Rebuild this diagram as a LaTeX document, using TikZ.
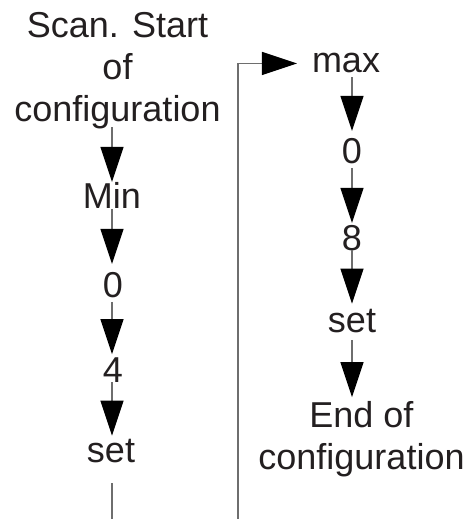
\documentclass[tikz,border=0pt]{standalone}
\usepackage{fontspec}
\setmainfont{Liberation Sans}
\usetikzlibrary{arrows.meta}
\definecolor{ink}{HTML}{231F20}
\definecolor{wire}{HTML}{6E6E6E}
\begin{document}
\begin{tikzpicture}[x=1pt,y=-1pt,
  lbl/.style={inner sep=0pt,outer sep=0pt,text=ink,font=\fontsize{36pt}{42pt}\selectfont},
  conn/.style={draw=wire,line width=1.2pt,
    -{Triangle[length=35pt,width=23pt,color=black]}},
  plainline/.style={draw=wire,line width=1.2pt}]
\useasboundingbox (0,0) rectangle (471,519);
% left column
\node[lbl,align=center,anchor=center] (cfg) at (117.5,70.5) {Scan. Start\\of\\configuration};
\node[lbl,anchor=base] (mn) at (112,208) {Min};
\node[lbl,anchor=base] (z1) at (113,297) {0};
\node[lbl,anchor=base] (f4) at (113,382) {4};
\node[lbl,anchor=base] (st1) at (111,462) {set};
\coordinate (lb) at (112,519);
% right column
\node[lbl,anchor=base] (mx) at (346,73) {max};
\node[lbl,anchor=base] (z2) at (352,163) {0};
\node[lbl,anchor=base] (e8) at (352,250) {8};
\node[lbl,anchor=base] (st2) at (352,332) {set};
\node[lbl,align=center,anchor=center] (endc) at (361.5,439) {End of\\configuration};
\coordinate (fb) at (238,519);
% connectors left
\draw[conn,shorten <=-1.6pt] (cfg.south -| lb) -- (mn.north -| lb);
\draw[conn,shorten <=1pt,shorten >=8pt] (mn.south -| lb) -- (z1.north -| lb);
\draw[conn,shorten <=4.5pt,shorten >=3pt] (z1.south -| lb) -- (f4.north -| lb);
\draw[conn,shorten >=3pt] (f4.south -| lb) -- (st1.north -| lb);
\draw[plainline,shorten <=21pt] (st1.south -| lb) -- (lb);
% connectors right
\draw[conn,shorten <=4pt,shorten >=7pt] (mx.south -| z2.north) -- (z2.north);
\draw[conn,shorten <=4.5pt,shorten >=2pt] (z2.south) -- (e8.north);
\draw[conn,shorten >=5pt] (e8.south) -- (st2.north);
\draw[conn,shorten <=7.5pt,shorten >=4pt] (st2.south) -- (endc.north -| st2.south);
% feedback
\draw[conn,shorten >=15pt] (fb) |- (mx.west);
\end{tikzpicture}
\end{document}
